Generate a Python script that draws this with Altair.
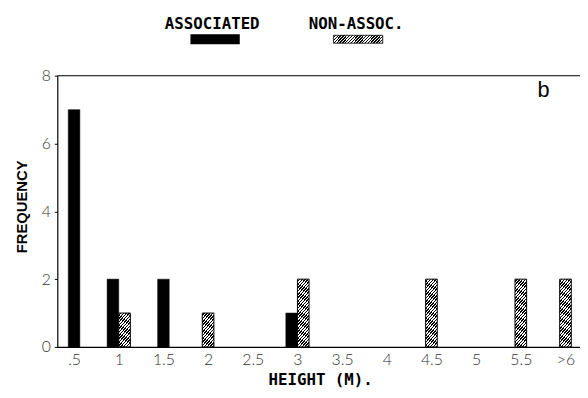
import math
import json
import altair as alt
import pandas as pd

# ---- data ----
categories = [".5", "1", "1.5", "2", "2.5", "3", "3.5", "4", "4.5", "5", "5.5", ">6"]
associated = [7, 2, 2, 0, 0, 1, 0, 0, 0, 0, 0, 0]
non_assoc = [0, 1, 0, 1, 0, 2, 0, 0, 2, 0, 2, 2]
y_ticks = [0, 2, 4, 6, 8]

# ---- layout constants ----
PLOT_W, PLOT_H = 530, 275
X_MIN, X_MAX = -0.375, 11.325
Y_MAX = 8
BAR_W = 0.26
PX_PER_X = PLOT_W / (X_MAX - X_MIN)
PX_PER_Y = PLOT_H / Y_MAX


def hatch(w, h, period=2.2, duty=0.5, theta_deg=50):
    th = math.radians(theta_deg)
    a = math.sin(th) / h
    b = math.cos(th) / w
    k = (a + b) / (a * a + b * b)
    D = w * math.sin(th) + h * math.cos(th)
    step = period / D
    stops = []
    i = 0
    while i * step < 1:
        o0 = i * step
        o1 = min(o0 + (1 - duty) * step, 1)
        o2 = min(o0 + step, 1)
        stops += [(o0, "white"), (o1, "white"), (o1, "black"), (o2, "black")]
        i += 1
    return {
        "gradient": "linear",
        "x1": 0, "y1": 0, "x2": k * a, "y2": k * b,
        "stops": [{"offset": round(o, 5), "color": c} for o, c in stops],
    }


rows = []
for i, cat in enumerate(categories):
    a, n = associated[i], non_assoc[i]
    if a and n:
        rows.append(dict(cat=cat, group="ASSOCIATED", value=a, x0=i - BAR_W, x1=i))
        rows.append(dict(cat=cat, group="NON-ASSOC.", value=n, x0=i, x1=i + BAR_W))
    else:
        if a:
            rows.append(dict(cat=cat, group="ASSOCIATED", value=a, x0=i - BAR_W / 2, x1=i + BAR_W / 2))
        if n:
            rows.append(dict(cat=cat, group="NON-ASSOC.", value=n, x0=i - BAR_W / 2, x1=i + BAR_W / 2))
df = pd.DataFrame(rows)

label_expr = json.dumps(categories) + "[datum.value]"
LABEL_FONT = "Lato"

x_enc = alt.X(
    "x0:Q",
    scale=alt.Scale(domain=[X_MIN, X_MAX], nice=False, zero=False),
    axis=alt.Axis(
        values=list(range(len(categories))), labelExpr=label_expr, title=None,
        tickSize=0, grid=False, labelFont=LABEL_FONT, labelFontSize=16,
        labelFontWeight=300, labelColor="#333", labelPadding=5,
        domainColor="black", domainWidth=1.2, labelFlush=False,
    ),
)
y_enc = alt.Y(
    "value:Q",
    scale=alt.Scale(domain=[0, Y_MAX], nice=False),
    axis=alt.Axis(
        values=y_ticks, title=None, tickSize=3, tickColor="black", grid=False,
        labelFont=LABEL_FONT, labelFontSize=16, labelFontWeight=300,
        labelColor="#333", labelPadding=4, domainColor="black", domainWidth=1.2,
    ),
)

base = alt.Chart(df)
black_bars = base.transform_filter("datum.group == 'ASSOCIATED'").mark_bar(
    fill="black", stroke="black", strokeWidth=0.5
).encode(x=x_enc, x2="x1:Q", y=y_enc, y2=alt.datum(0))

hatched_layers = []
for v in sorted(set(x for x in non_assoc if x)):
    g = hatch(BAR_W * PX_PER_X, v * PX_PER_Y)
    hatched_layers.append(
        base.transform_filter(f"datum.group == 'NON-ASSOC.' && datum.value == {v}")
        .mark_bar(fill=g, stroke="black", strokeWidth=1)
        .encode(x=x_enc, x2="x1:Q", y=y_enc, y2=alt.datum(0))
    )

top_rule = alt.Chart(pd.DataFrame({"a": [0]})).mark_rule(
    color="black", strokeWidth=1.2
).encode(y=alt.datum(Y_MAX))

# legend (drawn by hand above the plot)
LEG_FONT = "DejaVu Sans Mono"
leg_text = alt.Chart(pd.DataFrame({"t": ["ASSOCIATED", "NON-ASSOC."], "px": [157, 303]})).mark_text(
    font=LEG_FONT, fontSize=16, fontWeight="bold", align="center", baseline="alphabetic", color="black"
).encode(text="t:N", x=alt.X("px:Q", scale=None), y=alt.value(-47))

leg_black = alt.Chart(pd.DataFrame({"a": [0]})).mark_rect(fill="black").encode(
    x=alt.value(135), x2=alt.value(185), y=alt.value(-42), y2=alt.value(-32)
)
leg_hatch = alt.Chart(pd.DataFrame({"a": [0]})).mark_rect(
    fill=hatch(50, 9), stroke="black", strokeWidth=0.8
).encode(x=alt.value(280), x2=alt.value(330), y=alt.value(-41), y2=alt.value(-33))

panel_b = alt.Chart(pd.DataFrame({"t": ["b"]})).mark_text(
    font="Liberation Sans", fontSize=22, align="center", baseline="alphabetic", color="black"
).encode(text="t:N", x=alt.value(493), y=alt.value(22))

x_title = alt.Chart(pd.DataFrame({"t": ["HEIGHT (M)."]})).mark_text(
    font=LEG_FONT, fontSize=16, fontWeight="bold", align="center", baseline="alphabetic", color="black"
).encode(text="t:N", x=alt.value(267), y=alt.value(314))

y_title = alt.Chart(pd.DataFrame({"t": ["FREQUENCY"]})).mark_text(
    font="Liberation Sans", fontSize=15, fontWeight="bold", align="center", baseline="middle",
    angle=270, color="black"
).encode(text="t:N", x=alt.value(-36), y=alt.value(133))

chart = alt.layer(
    black_bars, *hatched_layers, top_rule, leg_text, leg_black, leg_hatch, panel_b, x_title, y_title
).resolve_scale(x="shared", y="shared").properties(
    width=PLOT_W, height=PLOT_H,
    autosize=alt.AutoSizeParams(type="none"),
    padding={"left": 50, "top": 66, "right": 0, "bottom": 43},
).configure_view(stroke=None)

chart.save("out.html", embed_options={"renderer": "svg", "actions": False})
